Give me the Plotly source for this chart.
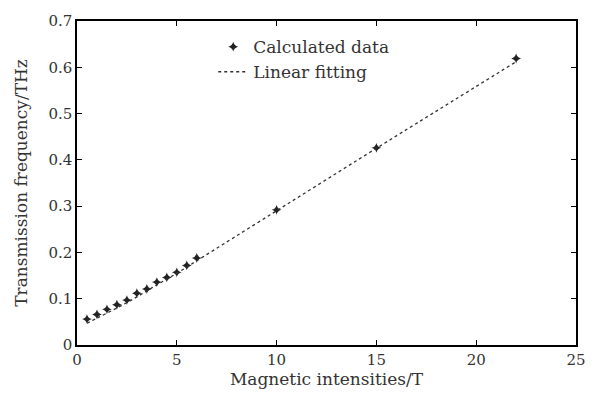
import plotly.graph_objects as go

field_T = [0.5, 1, 1.5, 2, 2.5, 3, 3.5, 4, 4.5, 5, 5.5, 6, 10, 15, 22]
freq_THz = [0.056, 0.066, 0.077, 0.087, 0.097, 0.112, 0.121, 0.136, 0.146, 0.157,
            0.172, 0.188, 0.292, 0.426, 0.619]

fit_T = [0.5, 1, 2, 3, 4, 5, 6, 10, 15, 22]
fit_THz = [0.047, 0.058, 0.080, 0.104, 0.130, 0.155, 0.182, 0.290, 0.425, 0.612]

x_ticks = [0, 5, 10, 15, 20, 25]
y_ticks = [0, 0.1, 0.2, 0.3, 0.4, 0.5, 0.6, 0.7]
y_tick_text = ["0", "0.1", "0.2", "0.3", "0.4", "0.5", "0.6", "0.7"]

font = "DejaVu Serif"
fs_tick = 15
fs_text = 17
txt = "#333333"

fig = go.Figure()
fig.add_trace(go.Scatter(
    x=field_T, y=freq_THz, mode="markers", name="Calculated data",
    marker=dict(symbol="star-diamond", size=7, color="#222222"),
))
fig.add_trace(go.Scatter(
    x=fit_T, y=fit_THz, mode="lines", name="Linear fitting",
    line=dict(color="#333333", width=1.3, dash="dot", shape="spline"),
))

axis_common = dict(
    showgrid=False, zeroline=False, showline=True, linecolor="black", linewidth=1.5,
    mirror="ticks", ticks="inside", ticklen=5, tickwidth=1, tickcolor="black",
    tickfont=dict(family=font, size=fs_tick, color=txt),
)
fig.update_xaxes(range=[0, 25], tickvals=x_ticks,
                 title=dict(text="Magnetic intensities/T", font=dict(family=font, size=fs_text, color=txt), standoff=5),
                 **axis_common)
fig.update_yaxes(range=[0, 0.7], tickvals=y_ticks, ticktext=y_tick_text,
                 title=dict(text="Transmission frequency/THz", font=dict(family=font, size=fs_text, color=txt), standoff=16),
                 **axis_common)

fig.update_layout(
    width=598, height=398,
    margin=dict(l=77, r=22, t=15, b=52),
    paper_bgcolor="white", plot_bgcolor="white",
    font=dict(family=font, size=fs_text, color=txt),
    legend=dict(x=0.273, y=0.975, xanchor="left", yanchor="top",
                bgcolor="rgba(0,0,0,0)", borderwidth=0,
                font=dict(family=font, size=fs_text, color=txt),
                itemwidth=30, tracegroupgap=0),
    showlegend=True,
)

fig.write_html("out.html")
